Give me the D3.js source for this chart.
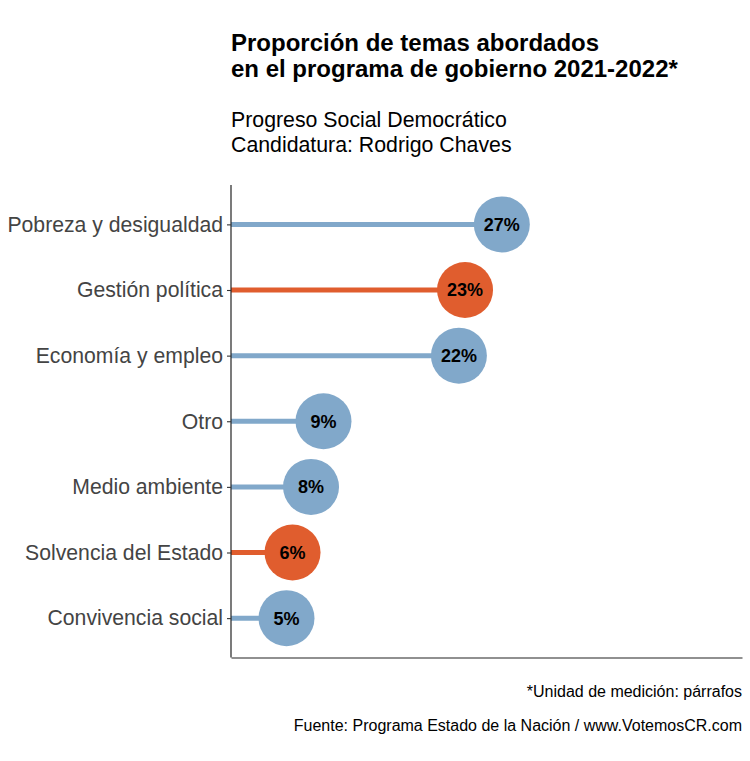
<!DOCTYPE html>
<html>
<head>
<meta charset="utf-8">
<script src="https://cdn.jsdelivr.net/npm/d3@7"></script>
<style>
  body { margin: 0; background: #fff; }
  svg { font-family: "Liberation Sans", Arial, sans-serif; }
</style>
</head>
<body>
<svg id="chart" width="750" height="761"></svg>
<script>
const categories = ["Pobreza y desigualdad", "Gestión política", "Economía y empleo", "Otro", "Medio ambiente", "Solvencia del Estado", "Convivencia social"];
const values = [26.5, 22.9, 22.3, 9.05, 7.83, 6.02, 5.43];
const labels = ["27%", "23%", "22%", "9%", "8%", "6%", "5%"];
const highlight = [false, true, false, false, false, true, false];
const xDomain = [0, 50];

(function () {
const blue = "#81a8ca", orange = "#e05d2e";
const svg = d3.select("#chart");
const pLeft = 231, pRight = 742, pTop = 185, pBottom = 657.5;

const x = d3.scaleLinear().domain(xDomain).range([pLeft, pRight]);
const y = d3.scalePoint().domain(categories).range([pTop, pBottom]).padding(0.6);

// Title
const title = svg.append("text").attr("font-weight", "bold").attr("font-size", 24).attr("fill", "#000");
title.append("tspan").attr("x", pLeft).attr("y", 51).text("Proporción de temas abordados");
title.append("tspan").attr("x", pLeft).attr("y", 77).text("en el programa de gobierno 2021-2022*");
const sub = svg.append("text").attr("font-size", 21.3).attr("fill", "#000");
sub.append("tspan").attr("x", pLeft).attr("y", 127).text("Progreso Social Democrático");
sub.append("tspan").attr("x", pLeft).attr("y", 152).text("Candidatura: Rodrigo Chaves");

const data = categories.map((c, i) => ({c, v: values[i], l: labels[i], h: highlight[i]}));

// Segments
svg.append("g").selectAll("line").data(data).join("line")
  .attr("x1", x(0)).attr("x2", d => x(d.v))
  .attr("y1", d => y(d.c)).attr("y2", d => y(d.c))
  .attr("stroke", d => d.h ? orange : blue).attr("stroke-width", 5);

// Circles
svg.append("g").selectAll("circle").data(data).join("circle")
  .attr("cx", d => x(d.v)).attr("cy", d => y(d.c)).attr("r", 28)
  .attr("fill", d => d.h ? orange : blue);

// Value labels
svg.append("g").selectAll("text").data(data).join("text")
  .attr("x", d => x(d.v)).attr("y", d => y(d.c)).attr("dy", "0.36em")
  .attr("text-anchor", "middle").attr("font-weight", "bold").attr("font-size", 18).attr("fill", "#000")
  .text(d => d.l);

// Y axis
const yAxis = svg.append("g").attr("transform", `translate(${pLeft},0)`)
  .call(d3.axisLeft(y).tickSize(4).tickPadding(4));
yAxis.select(".domain").attr("d", `M0,${pTop}V${pBottom}`).attr("stroke", "#222").attr("stroke-width", 1.2);
yAxis.selectAll(".tick line").attr("stroke", "#333").attr("stroke-width", 1.1);
yAxis.selectAll(".tick text").attr("font-size", 21.2).attr("fill", "#444").attr("font-family", "Liberation Sans, Arial, sans-serif");

// X axis line (no ticks)
const xAxis = svg.append("g").attr("transform", `translate(0,${pBottom})`)
  .call(d3.axisBottom(x).tickValues([]).tickSizeOuter(0));
xAxis.select(".domain").attr("stroke", "#222").attr("stroke-width", 1.2);

// Captions
svg.append("text").attr("x", pRight).attr("y", 697).attr("text-anchor", "end").attr("font-size", 16).attr("fill", "#000")
  .text("*Unidad de medición: párrafos");
svg.append("text").attr("x", pRight).attr("y", 731).attr("text-anchor", "end").attr("font-size", 16).attr("fill", "#000")
  .text("Fuente: Programa Estado de la Nación / www.VotemosCR.com");
})();
</script>
</body>
</html>
